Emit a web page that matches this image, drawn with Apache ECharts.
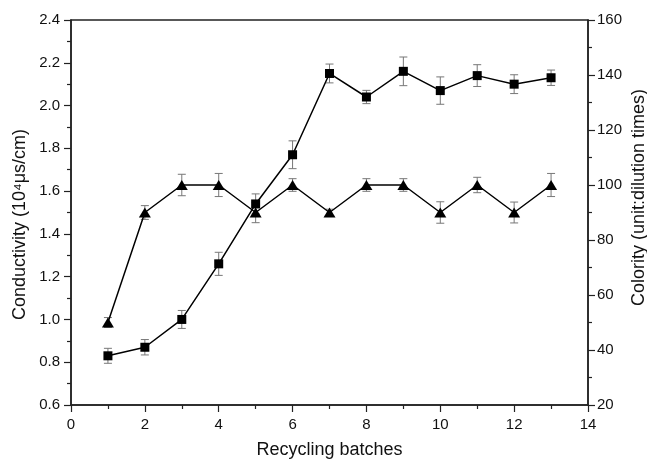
<!DOCTYPE html>
<html>
<head>
<meta charset="utf-8">
<script src="https://cdn.jsdelivr.net/npm/echarts@6/dist/echarts.min.js"></script>
<style>
  html, body { margin: 0; padding: 0; background: #fff; }
  #main { width: 647px; height: 462px; }
</style>
</head>
<body>
<div id="main"></div>
<script>
var batches = [1, 2, 3, 4, 5, 6, 7, 8, 9, 10, 11, 12, 13];
// squares, left axis
var conductivity = [0.83, 0.87, 1.00, 1.26, 1.54, 1.77, 2.15, 2.04, 2.16, 2.07, 2.14, 2.10, 2.13];
var conductivityErr = [0.035, 0.036, 0.042, 0.054, 0.047, 0.065, 0.044, 0.031, 0.067, 0.064, 0.051, 0.044, 0.036];
// triangles, right axis
var colority = [50, 90, 100, 100, 90, 100, 90, 100, 100, 90, 100, 90, 100];
var colorityErr = [1.8, 2.5, 3.9, 4.2, 3.7, 2.3, 1.2, 2.3, 2.3, 3.9, 2.8, 3.8, 4.2];

var myChart = echarts.init(document.getElementById('main'));

function pairs(ys) {
    return batches.map(function (x, i) { return [x, ys[i]]; });
}
function errData(ys, es) {
    return batches.map(function (x, i) { return [x, ys[i] - es[i], ys[i] + es[i]]; });
}
// vertical error bar with caps
function renderErr(params, api) {
    var lo = api.coord([api.value(0), api.value(1)]);
    var hi = api.coord([api.value(0), api.value(2)]);
    var w = 4;
    var st = { stroke: '#777', lineWidth: 1 };
    return {
        type: 'group',
        children: [
            { type: 'line', shape: { x1: lo[0], y1: lo[1], x2: hi[0], y2: hi[1] }, style: st },
            { type: 'line', shape: { x1: lo[0] - w, y1: lo[1], x2: lo[0] + w, y2: lo[1] }, style: st },
            { type: 'line', shape: { x1: hi[0] - w, y1: hi[1], x2: hi[0] + w, y2: hi[1] }, style: st }
        ]
    };
}

var font = 'Liberation Sans, Arial';
var axisLine = { show: true, lineStyle: { color: '#222', width: 1.5 } };
var labelStyle = { color: '#111', fontSize: 15, fontFamily: font };
var tick = { show: true, length: 7, lineStyle: { color: '#222', width: 1.2 } };
var minor = { show: true, splitNumber: 2, length: 4, lineStyle: { color: '#222', width: 1.2 } };

option = {
    animation: false,
    backgroundColor: '#fff',
    grid: {
        left: 71, right: 59, top: 20, bottom: 57,
        outerBoundsMode: 'none',
        containLabel: false,
        show: true, borderColor: '#222', borderWidth: 1.5
    },
    xAxis: {
        type: 'value',
        min: 0, max: 14, interval: 2,
        name: 'Recycling batches',
        nameLocation: 'middle',
        nameGap: 36,
        nameMoveOverlap: false,
        nameTextStyle: { fontSize: 18, color: '#111', fontFamily: font },
        axisLine: axisLine,
        axisTick: tick,
        minorTick: minor,
        axisLabel: Object.assign({ margin: 12 }, labelStyle),
        splitLine: { show: false }
    },
    yAxis: [
        {
            type: 'value',
            min: 0.6, max: 2.4, interval: 0.2,
            position: 'left',
            name: 'Conductivity (10⁴μs/cm)',
            nameLocation: 'middle',
            nameGap: 42,
            nameMoveOverlap: false,
            nameTextStyle: { fontSize: 18, color: '#111', fontFamily: font, padding: [0, 24, 0, 0] },
            axisLine: axisLine,
            axisTick: tick,
            minorTick: minor,
            axisLabel: Object.assign({
                margin: 11,
                formatter: function (v) { return v.toFixed(1); }
            }, labelStyle),
            splitLine: { show: false }
        },
        {
            type: 'value',
            min: 20, max: 160, interval: 20,
            position: 'right',
            name: 'Colority (unit:dilution times)',
            nameLocation: 'middle',
            nameGap: 42,
            nameMoveOverlap: false,
            nameTextStyle: { fontSize: 18, color: '#111', fontFamily: font, padding: [0, 0, 0, 30] },
            axisLine: axisLine,
            axisTick: tick,
            minorTick: minor,
            axisLabel: Object.assign({ margin: 9 }, labelStyle),
            splitLine: { show: false }
        }
    ],
    series: [
        {
            type: 'custom',
            yAxisIndex: 0,
            renderItem: renderErr,
            encode: { x: 0, y: [1, 2] },
            data: errData(conductivity, conductivityErr),
            z: 1
        },
        {
            type: 'custom',
            yAxisIndex: 1,
            renderItem: renderErr,
            encode: { x: 0, y: [1, 2] },
            data: errData(colority, colorityErr),
            z: 1
        },
        {
            name: 'Conductivity',
            type: 'line',
            yAxisIndex: 0,
            symbol: 'rect',
            symbolSize: 9,
            itemStyle: { color: '#000' },
            lineStyle: { color: '#000', width: 1.5 },
            data: pairs(conductivity),
            z: 3
        },
        {
            name: 'Colority',
            type: 'line',
            yAxisIndex: 1,
            symbol: 'triangle',
            symbolSize: [12, 10],
            itemStyle: { color: '#000' },
            lineStyle: { color: '#000', width: 1.5 },
            data: pairs(colority),
            z: 3
        }
    ]
};
myChart.setOption(option);
</script>
</body>
</html>
